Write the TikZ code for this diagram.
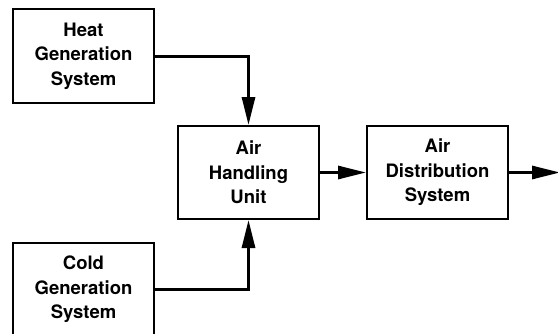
\documentclass[tikz,border=0pt]{standalone}
\usepackage{fontspec}
\setmainfont{TeX Gyre Heros}
\usepackage{tikz}
\usetikzlibrary{arrows.meta, positioning}

\begin{document}
\begin{tikzpicture}[
    x=1pt, y=1pt,
    box/.style={rectangle, draw, line width=2pt, minimum width=141pt, minimum height=93pt, align=center, inner sep=0pt, font=\fontsize{18.5}{24.5}\selectfont\bfseries},
    arr/.style={-{Triangle[length=28pt, width=13pt]}, line width=3pt},
    node distance=46pt
]
\useasboundingbox (0,0) rectangle (558,333);
\node[box] (ahu) at (248.5,160.5) {Air\\Handling\\Unit};
\node[box, right=of ahu] (ads) {Air\\Distribution\\System};
\node[box] (heat) at (83.5,277) {Heat\\Generation\\System};
\node[box] (cold) at (83.5,43.5) {Cold\\Generation\\System};
\coordinate[right=51pt of ads] (out);

\draw[arr] (heat.east) -| (ahu.north);
\draw[arr] (cold.east) -| (ahu.south);
\draw[arr] (ahu) -- (ads);
\draw[arr] (ads) -- (out);
\end{tikzpicture}
\end{document}
